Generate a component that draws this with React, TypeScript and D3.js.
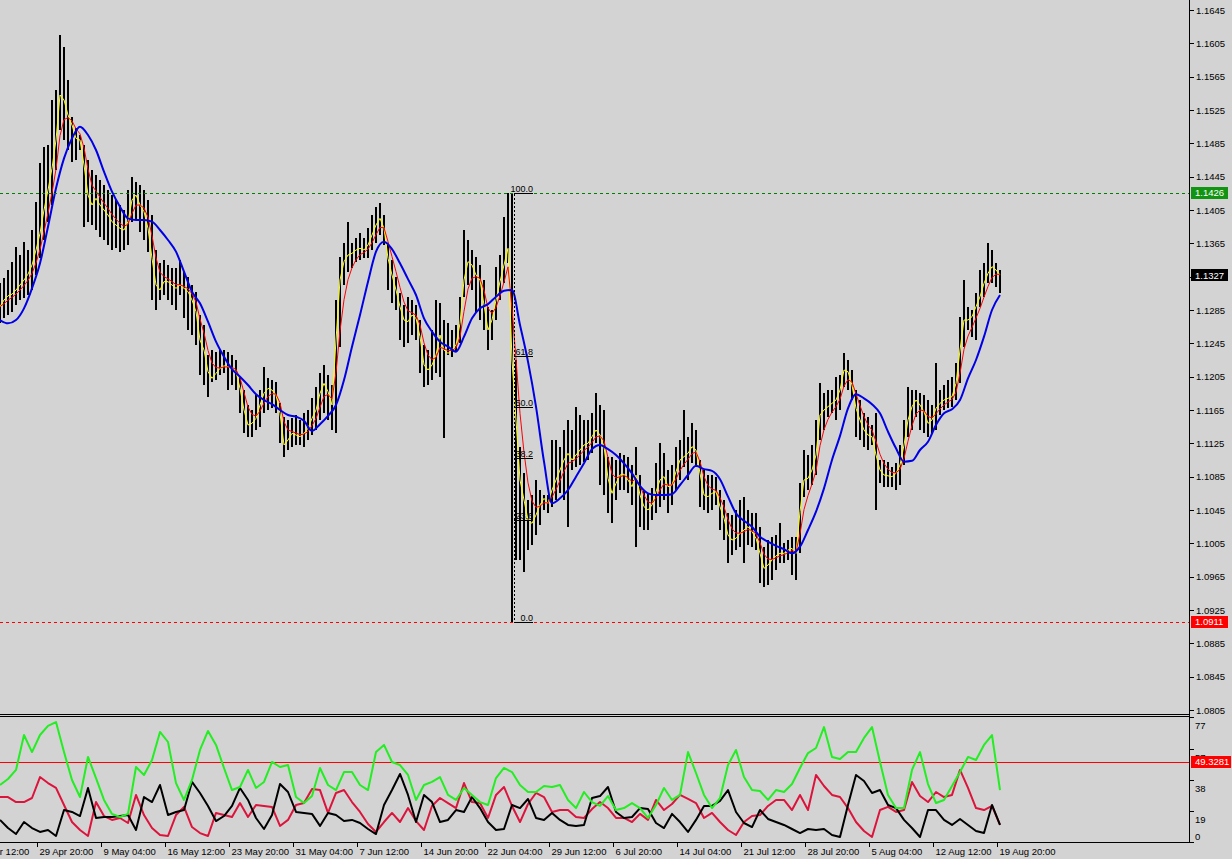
import * as d3 from 'd3'

// EURUSD H4: bars, three moving averages, a fibo on the Brexit bar and an ADX sub-window

const highs = [
  1.1317, 1.1323, 1.1333, 1.1343, 1.1361, 1.1351, 1.1367, 1.1357, 1.1381, 1.1415,
  1.1461, 1.1481, 1.1483, 1.1537, 1.1549, 1.1615, 1.1601, 1.1561, 1.1517, 1.1503,
  1.1495, 1.1483, 1.1465, 1.1453, 1.1447, 1.1441, 1.1435, 1.1429, 1.1423, 1.1417,
  1.1411, 1.1405, 1.1429, 1.1445, 1.1439, 1.1435, 1.1429, 1.1417, 1.1399, 1.1357,
  1.1341, 1.1345, 1.1339, 1.1335, 1.1335, 1.1345, 1.1331, 1.1325, 1.1315, 1.1307,
  1.1279, 1.1267, 1.1231, 1.1237, 1.1235, 1.1237, 1.1237, 1.1235, 1.1231, 1.1225,
  1.1205, 1.1189, 1.1171, 1.1165, 1.1183, 1.1189, 1.1217, 1.1203, 1.1201, 1.1199,
  1.1173, 1.1157, 1.1153, 1.1155, 1.1159, 1.1153, 1.1161, 1.1165, 1.1179, 1.1193,
  1.1209, 1.1219, 1.1207, 1.1195, 1.1297, 1.1349, 1.1365, 1.1391, 1.1365, 1.1371,
  1.1377, 1.1371, 1.1383, 1.1399, 1.1409, 1.1413, 1.1399, 1.1363, 1.1345, 1.1325,
  1.1305, 1.1291, 1.1301, 1.1297, 1.1291, 1.1273, 1.1243, 1.1237, 1.1261, 1.1297,
  1.1293, 1.1273, 1.1269, 1.1261, 1.1267, 1.1301, 1.1381, 1.1369, 1.1357, 1.1349,
  1.1339, 1.1321, 1.1289, 1.1285, 1.1337, 1.1351, 1.1397, 1.1425, 1.1426, 1.1225,
  1.1121, 1.1089, 1.1057, 1.1063, 1.1081, 1.1069, 1.1063, 1.1063, 1.1129, 1.1129,
  1.1121, 1.1141, 1.1153, 1.1141, 1.1169, 1.1159, 1.1153, 1.1153, 1.1161, 1.1185,
  1.1171, 1.1165, 1.1109, 1.1109, 1.1105, 1.1113, 1.1111, 1.1109, 1.1099, 1.1121,
  1.1087, 1.1069, 1.1065, 1.1071, 1.1101, 1.1125, 1.1113, 1.1093, 1.1099, 1.1121,
  1.1129, 1.1165, 1.1133, 1.1149, 1.1141, 1.1105, 1.1093, 1.1087, 1.1087, 1.1085,
  1.1069, 1.1057, 1.1041, 1.1039, 1.1045, 1.1057, 1.1061, 1.1045, 1.1041, 1.1041,
  1.1025, 1.1001, 1.1009, 1.1013, 1.1015, 1.1029, 1.1005, 1.1009, 1.1013, 1.1013,
  1.1077, 1.1117, 1.1111, 1.1123, 1.1153, 1.1197, 1.1185, 1.1189, 1.1189, 1.1205,
  1.1207, 1.1233, 1.1225, 1.1213, 1.1189, 1.1177, 1.1161, 1.1157, 1.1147, 1.1161,
  1.1105, 1.1105, 1.1103, 1.1097, 1.1101, 1.1123, 1.1153, 1.1193, 1.1189, 1.1189,
  1.1185, 1.1183, 1.1177, 1.1171, 1.1221, 1.1189, 1.1195, 1.1201, 1.1205, 1.1221,
  1.1277, 1.1321, 1.1289, 1.1285, 1.1305, 1.1333, 1.1341, 1.1365, 1.1357, 1.1341,
  1.1333,
]

const lows = [
  1.1269, 1.1275, 1.1279, 1.1283, 1.1291, 1.1297, 1.1299, 1.1303, 1.1309, 1.1327,
  1.1347, 1.1369, 1.1391, 1.1411, 1.1453, 1.1501, 1.1489, 1.1477, 1.1463, 1.1465,
  1.1477, 1.1385, 1.1391, 1.1387, 1.1381, 1.1373, 1.1369, 1.1363, 1.1357, 1.1359,
  1.1355, 1.1357, 1.1363, 1.1391, 1.1393, 1.1379, 1.1369, 1.1355, 1.1297, 1.1285,
  1.1297, 1.1303, 1.1297, 1.1291, 1.1285, 1.1303, 1.1275, 1.1261, 1.1255, 1.1243,
  1.1207, 1.1195, 1.1181, 1.1199, 1.1201, 1.1207, 1.1209, 1.1189, 1.1195, 1.1189,
  1.1161, 1.1137, 1.1133, 1.1133, 1.1141, 1.1145, 1.1161, 1.1165, 1.1167, 1.1161,
  1.1125, 1.1109, 1.1117, 1.1121, 1.1123, 1.1123, 1.1121, 1.1129, 1.1135, 1.1141,
  1.1153, 1.1161, 1.1153, 1.1141, 1.1137, 1.1241, 1.1315, 1.1331, 1.1335, 1.1343,
  1.1345, 1.1347, 1.1347, 1.1357, 1.1365, 1.1375, 1.1363, 1.1309, 1.1293, 1.1285,
  1.1249, 1.1241, 1.1245, 1.1255, 1.1249, 1.1209, 1.1193, 1.1195, 1.1201, 1.1209,
  1.1205, 1.1131, 1.1231, 1.1229, 1.1235, 1.1245, 1.1301, 1.1315, 1.1309, 1.1281,
  1.1273, 1.1261, 1.1237, 1.1249, 1.1273, 1.1297, 1.1317, 1.1341, 1.0911, 1.0985,
  1.0985, 1.0971, 1.0997, 1.1003, 1.1015, 1.1027, 1.1045, 1.1041, 1.1049, 1.1057,
  1.1065, 1.1057, 1.1025, 1.1093, 1.1097, 1.1099, 1.1103, 1.1105, 1.1113, 1.1125,
  1.1075, 1.1063, 1.1041, 1.1029, 1.1057, 1.1069, 1.1069, 1.1065, 1.1051, 1.1001,
  1.1025, 1.1021, 1.1021, 1.1033, 1.1041, 1.1049, 1.1057, 1.1041, 1.1051, 1.1069,
  1.1081, 1.1097, 1.1081, 1.1101, 1.1097, 1.1049, 1.1045, 1.1041, 1.1045, 1.1051,
  1.1021, 1.1009, 1.0981, 1.0991, 1.0997, 1.1001, 1.0981, 1.1003, 1.1001, 1.0997,
  1.0957, 1.0953, 1.0955, 1.0961, 1.0973, 1.0981, 1.0981, 1.0985, 1.0967, 1.0961,
  1.0993, 1.1061, 1.1069, 1.1075, 1.1087, 1.1129, 1.1141, 1.1157, 1.1161, 1.1153,
  1.1165, 1.1193, 1.1189, 1.1177, 1.1133, 1.1129, 1.1121, 1.1117, 1.1123, 1.1045,
  1.1077, 1.1073, 1.1073, 1.1073, 1.1069, 1.1075, 1.1099, 1.1133, 1.1141, 1.1157,
  1.1141, 1.1137, 1.1133, 1.1137, 1.1141, 1.1159, 1.1165, 1.1167, 1.1169, 1.1177,
  1.1197, 1.1241, 1.1261, 1.1253, 1.1249, 1.1289, 1.1301, 1.1317, 1.1317, 1.1313,
  1.1305,
]

// yellow MA, one value per bar
const fastMa = [
  1.1289, 1.1297, 1.1302, 1.1304, 1.1309, 1.1315, 1.1321, 1.1328, 1.1339, 1.1357,
  1.1377, 1.1405, 1.1429, 1.1455, 1.1489, 1.1543, 1.1537, 1.1519, 1.1507, 1.1491,
  1.1489, 1.1459, 1.1423, 1.1411, 1.1419, 1.1411, 1.1405, 1.1399, 1.1391, 1.1387,
  1.1383, 1.1381, 1.1391, 1.1417, 1.1423, 1.1411, 1.1403, 1.1383, 1.1347, 1.1315,
  1.1309, 1.1319, 1.1319, 1.1315, 1.1311, 1.1315, 1.1311, 1.1307, 1.1297, 1.1283,
  1.1249, 1.1237, 1.1211, 1.1203, 1.1209, 1.1215, 1.1218, 1.1217, 1.1215, 1.1211,
  1.1191, 1.1165, 1.1147, 1.1149, 1.1155, 1.1171, 1.1185, 1.1191, 1.1189, 1.1183,
  1.1161, 1.1123, 1.1129, 1.1137, 1.1135, 1.1133, 1.1137, 1.1143, 1.1155, 1.1165,
  1.1185, 1.1197, 1.1187, 1.1171, 1.1249, 1.1321, 1.1343, 1.1351, 1.1353, 1.1357,
  1.1359, 1.1357, 1.1363, 1.1375, 1.1387, 1.1395, 1.1383, 1.1347, 1.1327, 1.1309,
  1.1289, 1.1273, 1.1271, 1.1279, 1.1275, 1.1253, 1.1219, 1.1213, 1.1219, 1.1231,
  1.1255, 1.1237, 1.1233, 1.1237, 1.1243, 1.1269, 1.1321, 1.1343, 1.1339, 1.1327,
  1.1321, 1.1291, 1.1261, 1.1273, 1.1297, 1.1319, 1.1339, 1.1359, 1.1225, 1.1153,
  1.1081, 1.1057, 1.1033, 1.1029, 1.1039, 1.1051, 1.1059, 1.1053, 1.1069, 1.1081,
  1.1093, 1.1105, 1.1113, 1.1105, 1.1111, 1.1117, 1.1123, 1.1125, 1.1133, 1.1141,
  1.1135, 1.1121, 1.1083, 1.1065, 1.1077, 1.1087, 1.1088, 1.1081, 1.1073, 1.1087,
  1.1063, 1.1049, 1.1045, 1.1051, 1.1067, 1.1081, 1.1085, 1.1073, 1.1075, 1.1091,
  1.1105, 1.1109, 1.1113, 1.1121, 1.1117, 1.1089, 1.1063, 1.1061, 1.1065, 1.1067,
  1.1049, 1.1035, 1.1015, 1.1009, 1.1011, 1.1017, 1.1021, 1.1025, 1.1019, 1.1011,
  1.0993, 1.0975, 1.0979, 1.0985, 1.0990, 1.0993, 1.0993, 1.0997, 1.0999, 1.0993,
  1.1043, 1.1081, 1.1083, 1.1093, 1.1111, 1.1159, 1.1165, 1.1169, 1.1173, 1.1177,
  1.1189, 1.1213, 1.1211, 1.1195, 1.1167, 1.1153, 1.1141, 1.1135, 1.1133, 1.1111,
  1.1093, 1.1087, 1.1086, 1.1085, 1.1089, 1.1099, 1.1123, 1.1153, 1.1169, 1.1177,
  1.1171, 1.1163, 1.1149, 1.1153, 1.1167, 1.1173, 1.1177, 1.1179, 1.1181, 1.1197,
  1.1237, 1.1273, 1.1273, 1.1277, 1.1289, 1.1301, 1.1317, 1.1329, 1.1337, 1.1333,
  1.1327,
]

// blue MA, one value every second bar
const slowMa = [
  1.1273, 1.1269, 1.1273, 1.1287, 1.1311, 1.1341, 1.1385, 1.1431, 1.1467, 1.1491,
  1.1505, 1.1495, 1.1477, 1.1451, 1.1427, 1.1409, 1.1395, 1.1393, 1.1393, 1.1391,
  1.1381, 1.1369, 1.1355, 1.1331, 1.1307, 1.1293, 1.1271, 1.1247, 1.1229, 1.1214,
  1.1205, 1.1195, 1.1184, 1.1177, 1.1172, 1.1165, 1.1159, 1.1157, 1.1152, 1.1140,
  1.1148, 1.1158, 1.1171, 1.1201, 1.1241, 1.1279, 1.1319, 1.1355, 1.1367, 1.1358,
  1.1341, 1.1322, 1.1303, 1.1275, 1.1259, 1.1247, 1.1241, 1.1235, 1.1253, 1.1275,
  1.1287, 1.1292, 1.1301, 1.1308, 1.1309, 1.1267, 1.1223, 1.1169, 1.1103, 1.1053,
  1.1059, 1.1069, 1.1085, 1.1101, 1.1118, 1.1123, 1.1118, 1.1111, 1.1101, 1.1089,
  1.1074, 1.1065, 1.1063, 1.1063, 1.1064, 1.1075, 1.1087, 1.1098, 1.1094, 1.1092,
  1.1082, 1.1061, 1.1041, 1.1032, 1.1025, 1.1013, 1.1007, 1.1002, 1.0998, 1.0993,
  1.1001, 1.1021, 1.1043, 1.1071, 1.1105, 1.1134, 1.1167, 1.1184, 1.1179, 1.1172,
  1.1161, 1.1139, 1.1119, 1.1103, 1.1104, 1.1117, 1.1127, 1.1147, 1.1161, 1.1166,
  1.1177, 1.1203, 1.1225, 1.1253, 1.1285, 1.1303,
]

// ADX sub-window, one value every second bar
const adxMain = [
  35.1, 38.8, 44.4, 65.9, 55.4, 65.9, 71.5, 73.9, 55.4, 38.2,
  27.7, 52.4, 39.4, 25.9, 17.3, 15.4, 17.3, 46.2, 41.3, 50.5,
  67.8, 61.6, 36.3, 25.9, 38.2, 56.7, 68.4, 59.8, 45.6, 32,
  33.9, 44.4, 33.3, 37, 49.3, 46.2, 47.4, 27.7, 24, 28.3,
  45.6, 35.1, 32, 43.1, 43.1, 35.1, 32, 55.4, 59.8, 49.3,
  47.4, 41.3, 25.9, 35.1, 37, 40, 29, 25.9, 33.3, 29,
  24.6, 22.8, 39.4, 45.6, 43.1, 35.1, 30.8, 30.8, 34.5, 33.9,
  35.1, 25.9, 20.9, 30.8, 24.6, 22.2, 28.3, 19.7, 20.9, 24,
  20.9, 14.8, 22.8, 33.3, 25.9, 29, 55.4, 42.5, 29, 20.9,
  27.1, 47.4, 56.7, 40, 32, 31.4, 25.9, 32, 30.8, 35.7,
  45.6, 54.8, 57.9, 70.8, 52.4, 51.1, 55.4, 55.4, 64.1, 70.8,
  49.3, 29, 20.9, 20.9, 44.4, 55.4, 35.7, 24, 25.9, 34.5,
  43.1, 52.4, 50.5, 59.8, 65.9, 32,
]

const plusDi = [
  27.7, 27.7, 24.6, 24.6, 27.1, 40, 36.3, 33.3, 22.8, 12.3,
  7.4, 3.7, 24.6, 16, 13.6, 14.8, 11.7, 29, 16.6, 8.6,
  4.3, 3.7, 16.6, 21.6, 9.2, 5.5, 3.7, 17.9, 16.6, 15.4,
  24, 15.4, 22.8, 22.2, 21.6, 9.9, 13.6, 22.8, 24, 32.7,
  32, 17.9, 30.2, 32, 24.6, 18.5, 11.1, 6.2, 12.3, 17.9,
  12.3, 20.9, 12.9, 7.4, 22.2, 27.1, 24, 20.9, 36.3, 24.6,
  24, 14.8, 29, 33.9, 22.2, 12.3, 23.4, 30.2, 27.7, 18.5,
  19.7, 19.7, 15.4, 14.8, 20.3, 24.6, 20.9, 14.8, 14.8, 12.3,
  17.3, 13.6, 25.9, 19.7, 23.4, 29, 26.5, 24, 14.8, 17.9,
  12.3, 7.4, 4.3, 12.3, 16, 16.6, 22.2, 25.9, 25.9, 19.7,
  29, 19.7, 41.3, 34.5, 29, 27.7, 20.9, 12.3, 6.8, 3.1,
  19.7, 21.6, 18.5, 19.7, 37, 28.3, 24.6, 30.8, 27.7, 29,
  44.4, 33.3, 20.9, 19.7, 22.2, 10.5,
]

const minusDi = [
  13.6, 8.6, 4.9, 12.3, 8.6, 6.2, 7.4, 3.7, 19.7, 18.5,
  16, 33.3, 14.8, 15.4, 15.4, 16, 16.6, 7.4, 27.7, 24.6,
  35.1, 16.6, 18.5, 19.7, 37, 30.2, 22.2, 12.9, 16, 22.2,
  33.3, 25.9, 14.8, 8, 16.6, 35.7, 30.8, 18.5, 17.9, 17.3,
  9.9, 17.9, 16.6, 12.9, 13.6, 11.7, 8, 4.9, 22.8, 32,
  41.9, 29, 12.3, 29, 24.6, 12.3, 13.6, 19.7, 18.5, 27.7,
  20.9, 12.3, 7.4, 8, 22.8, 20.9, 26.5, 14.8, 13.6, 17.9,
  13.6, 10.5, 9.9, 10.5, 27.1, 28.3, 33.9, 18.5, 14.8, 15.4,
  20.9, 20.3, 11.7, 8.6, 17.3, 12.3, 6.2, 13.6, 22.2, 22.2,
  25.3, 32, 18.5, 11.7, 9.2, 19.7, 14.2, 12.3, 10.5, 8,
  5.5, 8, 7.4, 8, 4.3, 3.1, 22.8, 41.3, 37.6, 30.2,
  32, 22.8, 20.9, 13.6, 8.6, 3.1, 19.7, 19.7, 13.6, 10.5,
  14.2, 10.5, 6.8, 5.5, 22.8, 10.5,
]

const priceTicks = [
  1.1645, 1.1605, 1.1565, 1.1525, 1.1485, 1.1445, 1.1405, 1.1365, 1.1325, 1.1285, 1.1245,
  1.1205, 1.1165, 1.1125, 1.1085, 1.1045, 1.1005, 1.0965, 1.0925, 1.0885, 1.0845, 1.0805,
]
const adxTicks = [77, 57, 38, 19, 0]
const timeLabels = [
  '22 Apr 12:00', '29 Apr 20:00', '9 May 04:00', '16 May 12:00', '23 May 20:00', '31 May 04:00',
  '7 Jun 12:00', '14 Jun 20:00', '22 Jun 04:00', '29 Jun 12:00', '6 Jul 20:00', '14 Jul 04:00',
  '21 Jul 12:00', '28 Jul 20:00', '5 Aug 04:00', '12 Aug 12:00', '19 Aug 20:00',
]
const fibLevels = [100, 61.8, 50, 38.2, 23.6, 0]

const FIBO_HIGH = 1.1426
const FIBO_LOW = 1.0911
const FIBO_BAR = 128
const LAST_PRICE = 1.1327
const ADX_LEVEL = 49.3281
const BARS_PER_LABEL = 16

const AXIS_X = 1189.5
const FONT = '"Liberation Sans", Arial, sans-serif'

function Tag({ y, text, fill, width }: { y: number; text: string; fill: string; width: number }) {
  return (
    <g>
      <rect x={1191} y={Math.round(y) - 6} width={width} height={12} fill={fill} />
      <text x={1195} y={y} dominantBaseline="central" fontSize={9.5} fill="#fff">{text}</text>
    </g>
  )
}

export default function App() {
  const last = highs.length - 1
  const x = d3.scaleLinear().domain([0, last]).range([0, 1000])
  const y = d3.scaleLinear().domain([1.0805, 1.1645]).range([710, 10])
  const ys = d3.scaleLinear().domain([0, 77]).range([842, 717])
  const px = (i: number) => Math.round(x(i))

  // red line is a short EMA of the yellow one
  const redMa: number[] = []
  fastMa.forEach((v, i) => redMa.push(i === 0 ? v : redMa[i - 1] + 0.45 * (v - redMa[i - 1])))

  const perBar = d3.line<number>().x((_, i) => x(i)).y(d => y(d))
  const everyOther = d3.line<number>().x((_, i) => x(i * 2)).y(d => y(d)).curve(d3.curveMonotoneX)
  const subLine = d3.line<number>().x((_, i) => x(i * 2)).y(d => ys(d))

  const fibX = px(FIBO_BAR) + 2.5
  const fibY = (lvl: number) => Math.round(y(FIBO_LOW + (FIBO_HIGH - FIBO_LOW) * lvl / 100)) + 0.5

  return (
    <svg
      width={1232}
      height={859}
      style={{ position: 'absolute', left: 0, top: 0, display: 'block' }}
      fontFamily={FONT}
    >
      <rect width={1232} height={859} fill="#d3d3d3" />
      <defs>
        <clipPath id="mainClip"><rect x={0} y={0} width={1189} height={714} /></clipPath>
        <clipPath id="subClip"><rect x={0} y={717} width={1189} height={125} /></clipPath>
      </defs>

      {/* price window */}
      <g clipPath="url(#mainClip)">
        {highs.map((h, i) => (
          <line key={i} x1={px(i)} x2={px(i)} y1={y(h)} y2={y(lows[i])} stroke="#000" strokeWidth={2} shapeRendering="crispEdges" />
        ))}
        <path d={perBar(fastMa) || ''} fill="none" stroke="#ffff00" strokeWidth={1} />
        <path d={perBar(redMa) || ''} fill="none" stroke="#ff0000" strokeWidth={1} />
        <path d={everyOther(slowMa) || ''} fill="none" stroke="#0000e6" strokeWidth={2} />

        <line x1={0} x2={1189} y1={Math.round(y(FIBO_HIGH)) + 0.5} y2={Math.round(y(FIBO_HIGH)) + 0.5} stroke="#008000" strokeDasharray="3,3" />
        <line x1={0} x2={1189} y1={Math.round(y(FIBO_LOW)) + 0.5} y2={Math.round(y(FIBO_LOW)) + 0.5} stroke="#ff0000" strokeDasharray="3,3" />

        {/* fibonacci retracement */}
        <line x1={fibX} x2={fibX} y1={fibY(100)} y2={fibY(0)} stroke="#000" strokeDasharray="2,2" shapeRendering="crispEdges" />
        {fibLevels.map(l => (
          <g key={l}>
            <line x1={fibX - 0.5} x2={533} y1={fibY(l)} y2={fibY(l)} stroke="#000" shapeRendering="crispEdges" />
            <text x={533} y={fibY(l) - 1.5} textAnchor="end" fontSize={9} fill="#000">{l.toFixed(1)}</text>
          </g>
        ))}
      </g>

      {/* ADX window */}
      <g clipPath="url(#subClip)">
        <line x1={0} x2={1189} y1={Math.round(ys(ADX_LEVEL)) + 0.5} y2={Math.round(ys(ADX_LEVEL)) + 0.5} stroke="#ff0000" />
        <path d={subLine(plusDi) || ''} fill="none" stroke="#dc143c" strokeWidth={2} strokeLinejoin="round" />
        <path d={subLine(minusDi) || ''} fill="none" stroke="#000" strokeWidth={2} strokeLinejoin="round" />
        <path d={subLine(adxMain) || ''} fill="none" stroke="#22ee22" strokeWidth={2} strokeLinejoin="round" />
      </g>

      {/* frames */}
      <g stroke="#000" shapeRendering="crispEdges">
        <line x1={0} x2={AXIS_X} y1={714.5} y2={714.5} />
        <line x1={0} x2={AXIS_X} y1={716.5} y2={716.5} />
        <line x1={0} x2={AXIS_X} y1={842.5} y2={842.5} />
        <line x1={AXIS_X} x2={AXIS_X} y1={0} y2={842.5} />
      </g>

      {/* price axis */}
      {priceTicks.map(p => (
        <g key={p}>
          <line x1={1190} x2={1194} y1={Math.round(y(p)) + 0.5} y2={Math.round(y(p)) + 0.5} stroke="#000" shapeRendering="crispEdges" />
          <text x={1196} y={y(p)} dominantBaseline="central" fontSize={9.5} fill="#000">{p.toFixed(4)}</text>
        </g>
      ))}

      {/* ADX axis: the 57 label sits under the level tag, as on the terminal */}
      {adxTicks.map(v => (
        <g key={v}>
          <line x1={1190} x2={1194} y1={Math.round(ys(v)) + 0.5} y2={Math.round(ys(v)) + 0.5} stroke="#000" shapeRendering="crispEdges" />
          <text x={1195} y={Math.min(ys(v) + 8, 836)} dominantBaseline="central" fontSize={9.5} fill="#000">{v}</text>
        </g>
      ))}

      <Tag y={y(FIBO_HIGH)} text={FIBO_HIGH.toFixed(4)} fill="#119411" width={37} />
      <Tag y={y(LAST_PRICE)} text={LAST_PRICE.toFixed(4)} fill="#000" width={37} />
      <Tag y={y(FIBO_LOW)} text={FIBO_LOW.toFixed(4)} fill="#ff0000" width={37} />
      <Tag y={ys(ADX_LEVEL)} text={ADX_LEVEL.toFixed(4)} fill="#ff0000" width={40} />

      {/* time axis */}
      {timeLabels.map((t, k) => {
        const idx = last - BARS_PER_LABEL * (timeLabels.length - 1 - k)
        const tx = Math.round(x(idx)) - 2.5
        return (
          <g key={t}>
            <line x1={tx} x2={tx} y1={843} y2={847} stroke="#000" shapeRendering="crispEdges" />
            <text x={tx + 2} y={851.5} dominantBaseline="central" fontSize={9.5} fill="#000">{t}</text>
          </g>
        )
      })}
    </svg>
  )
}
